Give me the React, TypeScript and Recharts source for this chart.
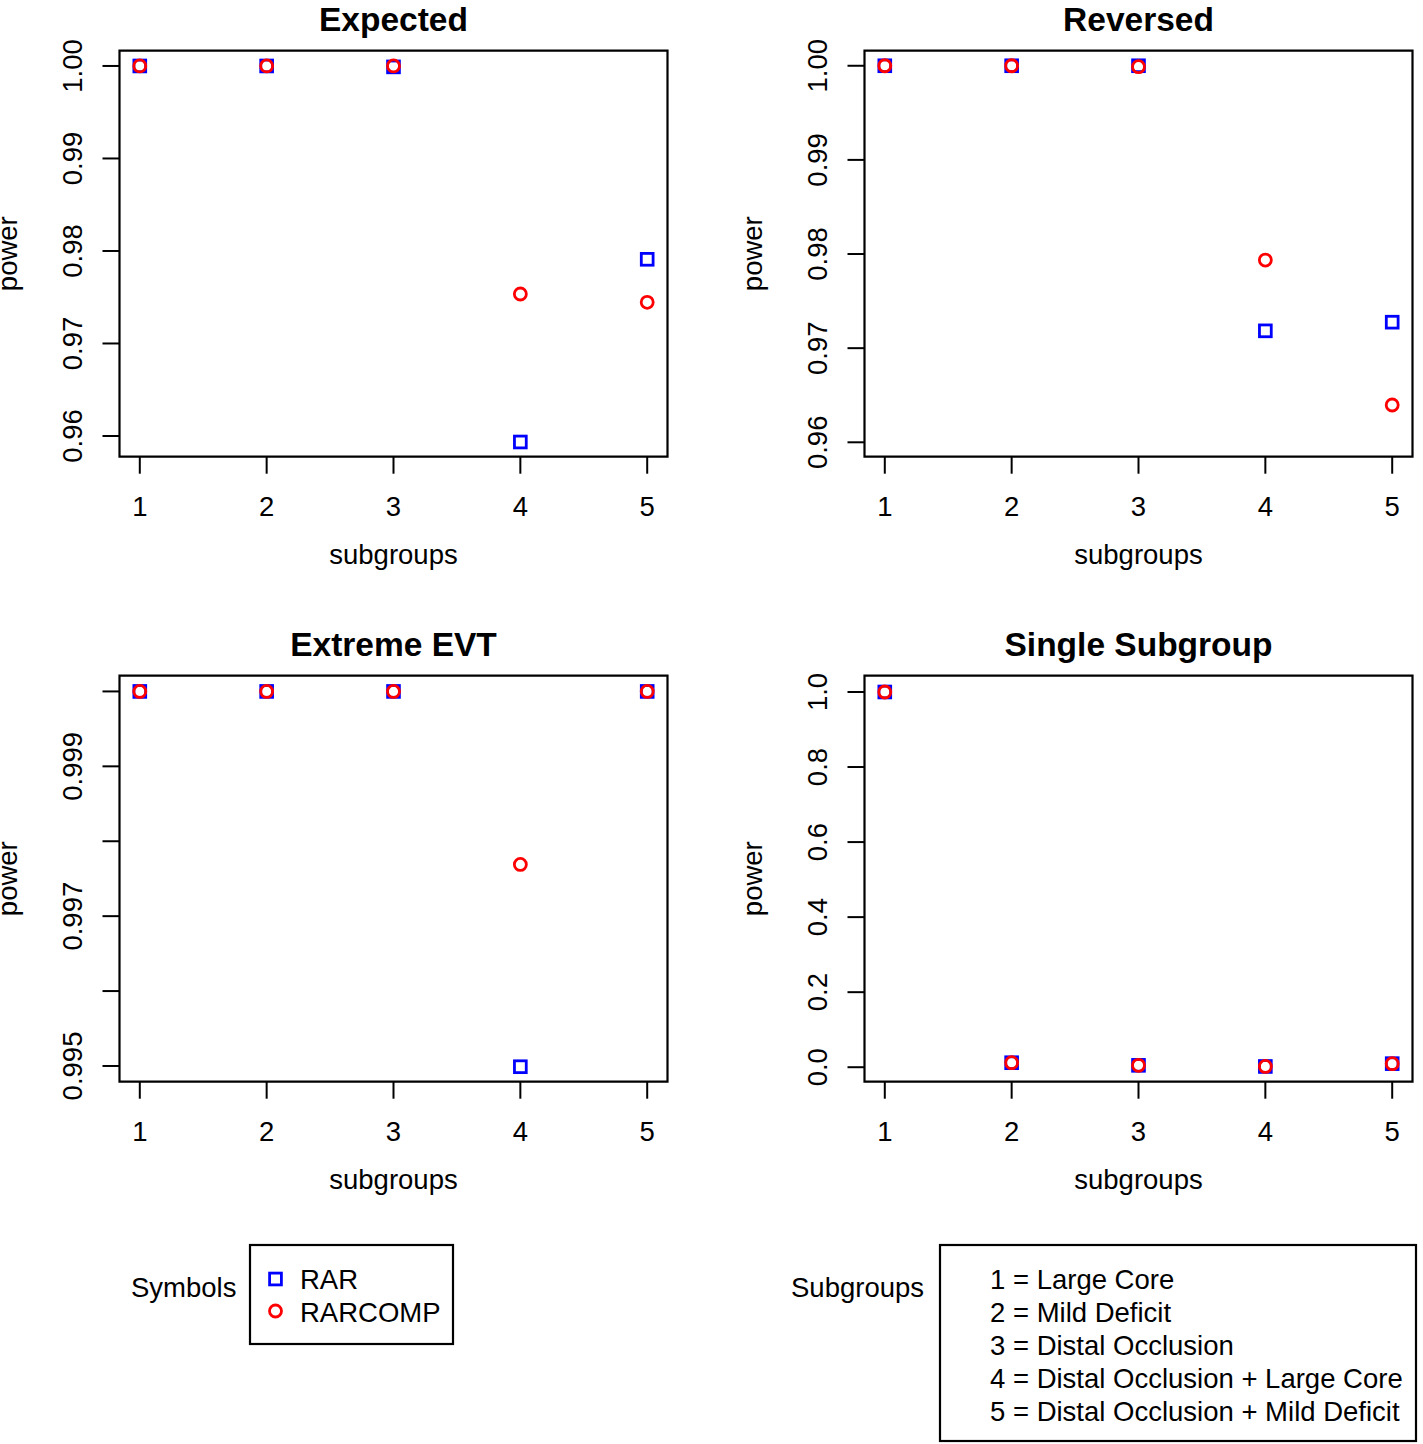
import React from "react";
import { ScatterChart, Scatter, XAxis, YAxis, ReferenceArea } from "recharts";

// x positions of the five subgroups
const subgroups = [1, 2, 3, 4, 5];
const xTickLabels = ["1", "2", "3", "4", "5"];

// power per subgroup, one pair of series per scenario
const expectedRAR = [1.0, 1.0, 0.9999, 0.95935, 0.9791];
const expectedRARCOMP = [1.0, 1.0, 1.0, 0.97535, 0.97445];
const reversedRAR = [1.0, 1.0, 1.0, 0.97184, 0.97276];
const reversedRARCOMP = [1.0, 1.0, 0.9999, 0.97936, 0.96396];
const extremeRAR = [1.0, 1.0, 1.0, 0.99499, 1.0];
const extremeRARCOMP = [1.0, 1.0, 1.0, 0.99769, 1.0];
const singleRAR = [1.0, 0.012, 0.005, 0.002, 0.0095];
const singleRARCOMP = [1.0, 0.012, 0.005, 0.002, 0.0095];

// y ticks and their labels (R drops labels that would overlap)
const yTicksTop = [0.96, 0.97, 0.98, 0.99, 1.0];
const yTickLabelsTop = ["0.96", "0.97", "0.98", "0.99", "1.00"];
const yTicksExtreme = [0.995, 0.996, 0.997, 0.998, 0.999, 1.0];
const yTickLabelsExtreme = ["0.995", "", "0.997", "", "0.999", ""];
const yTicksSingle = [0, 0.2, 0.4, 0.6, 0.8, 1.0];
const yTickLabelsSingle = ["0.0", "0.2", "0.4", "0.6", "0.8", "1.0"];

const legendSubgroups = [
  "1 = Large Core",
  "2 = Mild Deficit",
  "3 = Distal Occlusion",
  "4 = Distal Occlusion + Large Core",
  "5 = Distal Occlusion + Mild Deficit",
];

const FONT = "'Liberation Sans', Arial, Helvetica, sans-serif";
const FS = 27.5;
const BLUE = "#0000FF";
const RED = "#FF0000";

// panel geometry (chart-local coordinates)
const W = 675.5;
const H = 625;
const BOX_LEFT = 119.5;
const BOX_RIGHT = 667.5;
const BOX_TOP = 50.7;
const BOX_BOTTOM = 456.7;
const X_DOMAIN: [number, number] = [0.84, 5.16];

const Square = (p: any) => (
  <rect x={p.cx - 5.9} y={p.cy - 5.9} width={11.8} height={11.8} fill="none" stroke={BLUE} strokeWidth={2.8} />
);
const Ring = (p: any) => (
  <circle cx={p.cx} cy={p.cy} r={6} fill="none" stroke={RED} strokeWidth={2.8} />
);

const XTick = (p: any) => (
  <text x={p.x} y={BOX_BOTTOM + 59.3} textAnchor="middle" fontSize={FS} fontFamily={FONT} fill="#000">
    {xTickLabels[subgroups.indexOf(p.payload.value)]}
  </text>
);

const makeYTick = (ticks: number[], labels: string[]) => (p: any) => {
  const i = ticks.findIndex((t) => Math.abs(t - p.payload.value) < 1e-9);
  const label = i >= 0 ? labels[i] : "";
  if (!label) return <g />;
  const tx = BOX_LEFT - 37.5;
  return (
    <text x={tx} y={p.y} transform={`rotate(-90, ${tx}, ${p.y})`} textAnchor="middle" fontSize={FS} fontFamily={FONT} fill="#000">
      {label}
    </text>
  );
};

type PanelProps = {
  left: number;
  top: number;
  title: string;
  rar: number[];
  rarcomp: number[];
  domain: [number, number];
  ticks: number[];
  tickLabels: string[];
};

function Panel({ left, top, title, rar, rarcomp, domain, ticks, tickLabels }: PanelProps) {
  const rarData = subgroups.map((x, i) => ({ x, y: rar[i] }));
  const compData = subgroups.map((x, i) => ({ x, y: rarcomp[i] }));
  const cx = (BOX_LEFT + BOX_RIGHT) / 2;
  const cy = (BOX_TOP + BOX_BOTTOM) / 2;
  return (
    <div style={{ position: "absolute", left, top, width: W, height: H }}>
      <svg width={W} height={H} style={{ position: "absolute", left: 0, top: 0, overflow: "visible" }}>
        <text x={cx} y={31} textAnchor="middle" fontSize={33.5} fontWeight="bold" fontFamily={FONT} fill="#000">
          {title}
        </text>
        <text x={cx} y={BOX_BOTTOM + 107.6} textAnchor="middle" fontSize={FS} fontFamily={FONT} fill="#000">
          subgroups
        </text>
        <text x={17} y={cy} transform={`rotate(-90, 17, ${cy})`} textAnchor="middle" fontSize={FS} fontFamily={FONT} fill="#000">
          power
        </text>
      </svg>
      <div style={{ position: "absolute", left: 0, top: 0 }}>
        <ScatterChart width={W} height={H} margin={{ top: BOX_TOP, right: W - BOX_RIGHT, bottom: 0, left: 0 }}>
          <XAxis
            type="number"
            dataKey="x"
            domain={X_DOMAIN}
            ticks={subgroups}
            interval={0}
            allowDataOverflow
            axisLine={false}
            tickLine={{ stroke: "#000", strokeWidth: 2 }}
            tickSize={17}
            height={H - BOX_BOTTOM}
            tick={<XTick />}
          />
          <YAxis
            type="number"
            dataKey="y"
            domain={domain}
            ticks={ticks}
            interval={0}
            allowDataOverflow
            axisLine={false}
            tickLine={{ stroke: "#000", strokeWidth: 2 }}
            tickSize={17}
            width={BOX_LEFT}
            tick={makeYTick(ticks, tickLabels)}
          />
          <ReferenceArea x1={X_DOMAIN[0]} x2={X_DOMAIN[1]} y1={domain[0]} y2={domain[1]} fill="none" fillOpacity={0} stroke="#000" strokeWidth={2.2} ifOverflow="visible" />
          <Scatter data={rarData} shape={Square} isAnimationActive={false} />
          <Scatter data={compData} shape={Ring} isAnimationActive={false} />
        </ScatterChart>
      </div>
    </div>
  );
}

export default function App() {
  const txt = { fontSize: FS, fontFamily: FONT, fill: "#000" };
  return (
    <div style={{ position: "absolute", left: 0, top: 0, width: 1423, height: 1444, overflow: "hidden", background: "#fff" }}>
      <Panel left={0} top={0} title="Expected" rar={expectedRAR} rarcomp={expectedRARCOMP} domain={[0.95776, 1.00165]} ticks={yTicksTop} tickLabels={yTickLabelsTop} />
      <Panel left={745} top={0} title="Reversed" rar={reversedRAR} rarcomp={reversedRARCOMP} domain={[0.95847, 1.0016]} ticks={yTicksTop} tickLabels={yTickLabelsTop} />
      <Panel left={0} top={625} title="Extreme EVT" rar={extremeRAR} rarcomp={extremeRARCOMP} domain={[0.99479, 1.00021]} ticks={yTicksExtreme} tickLabels={yTickLabelsExtreme} />
      <Panel left={745} top={625} title="Single Subgroup" rar={singleRAR} rarcomp={singleRARCOMP} domain={[-0.0386, 1.0434]} ticks={yTicksSingle} tickLabels={yTickLabelsSingle} />
      <svg width={1423} height={210} style={{ position: "absolute", left: 0, top: 1234 }}>
        <g transform="translate(0,-1234)">
          <text x={131} y={1297} {...txt}>Symbols</text>
          <rect x={250} y={1245} width={203} height={99} fill="none" stroke="#000" strokeWidth={2.2} />
          <rect x={269.6} y={1273.1} width={11.8} height={11.8} fill="none" stroke={BLUE} strokeWidth={2.8} />
          <circle cx={275.5} cy={1311} r={6} fill="none" stroke={RED} strokeWidth={2.8} />
          <text x={300} y={1289} {...txt}>RAR</text>
          <text x={300} y={1321.5} {...txt}>RARCOMP</text>

          <text x={791} y={1297} {...txt}>Subgroups</text>
          <rect x={940} y={1245} width={476} height={196} fill="none" stroke="#000" strokeWidth={2.2} />
          {legendSubgroups.map((s, i) => (
            <text key={s} x={990} y={1289 + i * 33} {...txt}>{s}</text>
          ))}
        </g>
      </svg>
    </div>
  );
}
